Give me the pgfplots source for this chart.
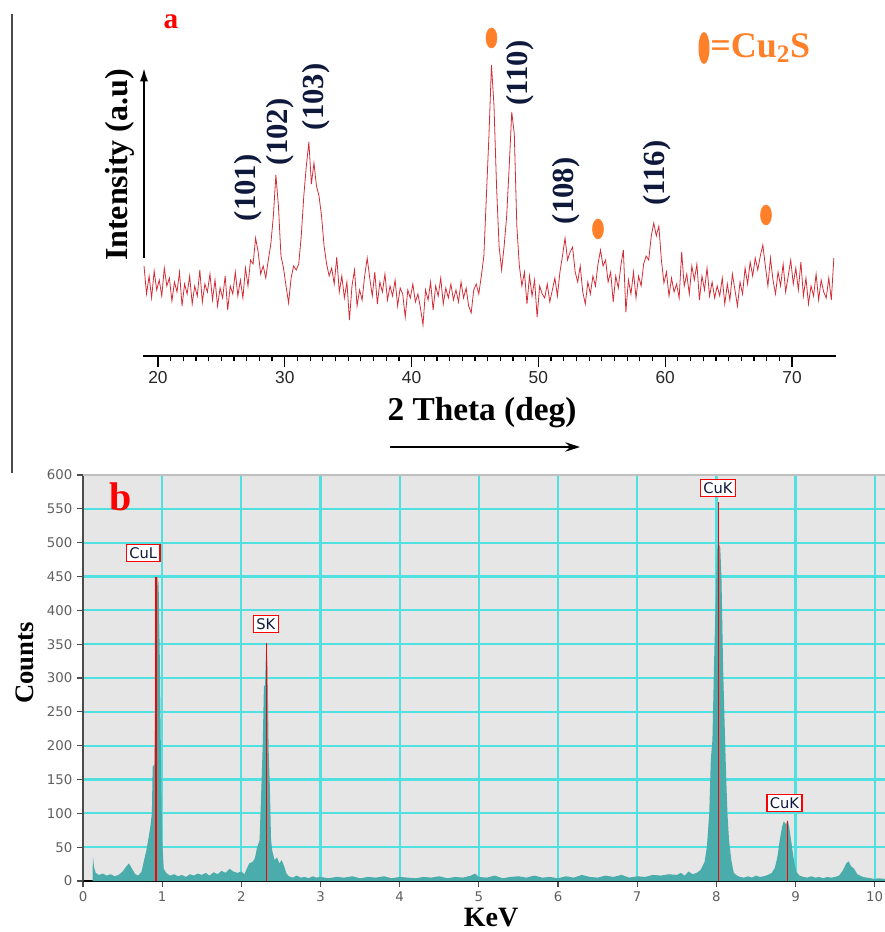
\documentclass[border=0pt]{standalone}
\usepackage{fontspec}
\setmainfont{Liberation Serif}
\setsansfont{Liberation Sans}
\newfontfamily\dejavu{DejaVu Sans}
\usepackage{pgfplots}
\pgfplotsset{compat=1.18}
\usetikzlibrary{arrows.meta}
\definecolor{xrdred}{RGB}{210,45,55}
\definecolor{cuorange}{RGB}{255,128,40}
\definecolor{gridcyan}{RGB}{80,224,224}
\definecolor{bggray}{RGB}{230,230,230}
\definecolor{tealfill}{RGB}{75,172,172}
\definecolor{labblue}{RGB}{15,25,60}
\definecolor{tickgray}{RGB}{95,95,95}
\begin{document}
\begin{tikzpicture}[x=0.75pt,y=0.75pt]
\useasboundingbox (0,0) rectangle (885,932);
\coordinate (PA) at (143,576);
\coordinate (PB) at (83,51);
\draw[gray!60!black, line width=0.9pt] (12,918) -- (12,459);
% ---------------- panel a ----------------
\begin{axis}[
  at={(PA)}, anchor=south west,
  scale only axis, width=519.75pt, height=255pt,
  xmin=18.82, xmax=73.47, ymin=0, ymax=340,
  axis x line*=bottom, axis y line=none,
  clip=false,
  xtick={20,30,...,70}, minor x tick num=9,
  tick align=outside,
  major tick length=8pt, minor tick length=4pt,
  x axis line style={black, line width=1pt},
  every tick/.style={black, line width=0.9pt},
  /pgf/number format/assume math mode=true,
  xticklabel style={font=\sffamily\fontsize{13}{13}\selectfont, text=black!85},
]
\addplot[xrdred, line width=0.6pt] coordinates {
(18.9,90)(19.1,62)(19.3,80)(19.5,58)(19.7,85)(19.9,66)(20.1,76)(20.3,60)(20.5,88)(20.7,70)
(20.9,78)(21.1,55)(21.3,74)(21.5,64)(21.7,84)(21.9,50)(22.1,72)(22.3,62)(22.5,80)(22.7,52)
(22.9,70)(23.1,60)(23.3,86)(23.5,54)(23.7,72)(23.9,64)(24.1,82)(24.3,56)(24.5,76)(24.7,50)
(24.9,68)(25.1,58)(25.3,80)(25.5,46)(25.7,70)(25.9,62)(26.1,84)(26.3,60)(26.5,76)(26.7,58)
(26.9,88)(27.1,70)(27.3,96)(27.5,92)(27.7,118)(27.9,104)(28.1,82)(28.3,90)(28.5,78)(28.7,96)
(28.9,112)(29.1,140)(29.3,181)(29.5,150)(29.7,100)(29.9,88)(30.1,70)(30.3,53)(30.5,78)(30.7,90)
(30.9,86)(31.1,92)(31.3,120)(31.5,160)(31.7,190)(31.9,214)(32.1,172)(32.3,193)(32.5,170)(32.7,160)
(32.9,140)(33.1,110)(33.3,92)(33.5,80)(33.7,88)(33.9,72)(34.1,99)(34.3,64)(34.5,80)(34.7,58)
(34.9,74)(35.1,36)(35.3,70)(35.5,86)(35.7,50)(35.9,66)(36.1,56)(36.3,80)(36.5,98)(36.7,78)
(36.9,60)(37.1,84)(37.3,52)(37.5,74)(37.7,64)(37.9,82)(38.1,56)(38.3,70)(38.5,60)(38.7,76)
(38.9,50)(39.1,68)(39.3,62)(39.5,39)(39.7,66)(39.9,58)(40.1,72)(40.3,54)(40.5,62)(40.7,48)
(40.9,31)(41.1,66)(41.3,56)(41.5,74)(41.7,46)(41.9,70)(42.1,60)(42.3,78)(42.5,52)(42.7,68)
(42.9,58)(43.1,72)(43.3,56)(43.5,66)(43.7,54)(43.9,74)(44.1,58)(44.3,68)(44.5,50)(44.7,43)
(44.9,66)(45.1,72)(45.3,62)(45.5,80)(45.7,100)(45.9,160)(46.1,220)(46.3,291)(46.5,250)(46.7,170)
(46.9,110)(47.1,86)(47.3,110)(47.5,140)(47.7,190)(47.9,244)(48.1,222)(48.3,130)(48.5,90)(48.7,70)
(48.9,84)(49.1,52)(49.3,80)(49.5,60)(49.7,76)(49.9,39)(50.1,70)(50.3,62)(50.5,58)(50.7,72)
(50.9,54)(51.1,66)(51.3,78)(51.5,60)(51.7,84)(51.9,100)(52.1,118)(52.3,96)(52.5,104)(52.7,109)
(52.9,84)(53.1,74)(53.3,90)(53.5,64)(53.7,52)(53.9,74)(54.1,62)(54.3,80)(54.5,70)(54.7,92)
(54.9,106)(55.1,90)(55.3,96)(55.5,74)(55.7,84)(55.9,54)(56.1,80)(56.3,68)(56.5,90)(56.7,106)
(56.9,44)(57.1,76)(57.3,62)(57.5,84)(57.7,58)(57.9,80)(58.1,70)(58.3,92)(58.5,100)(58.7,96)
(58.9,120)(59.1,133)(59.3,120)(59.5,130)(59.7,96)(59.9,73)(60.1,84)(60.3,60)(60.5,78)(60.7,64)
(60.9,72)(61.1,58)(61.3,104)(61.5,70)(61.7,82)(61.9,62)(62.1,90)(62.3,76)(62.5,92)(62.7,56)
(62.9,80)(63.1,66)(63.3,88)(63.5,60)(63.7,74)(63.9,58)(64.1,70)(64.3,60)(64.5,78)(64.7,52)
(64.9,72)(65.1,56)(65.3,82)(65.5,66)(65.7,50)(65.9,74)(66.1,62)(66.3,88)(66.5,72)(66.7,94)
(66.9,80)(67.1,98)(67.3,86)(67.5,100)(67.7,111)(67.9,90)(68.1,70)(68.3,98)(68.5,76)(68.7,62)
(68.9,84)(69.1,70)(69.3,92)(69.5,64)(69.7,80)(69.9,96)(70.1,72)(70.3,88)(70.5,66)(70.7,94)
(70.9,60)(71.1,78)(71.3,52)(71.5,70)(71.7,60)(71.9,82)(72.1,56)(72.3,76)(72.5,64)(72.7,58)
(72.9,78)(73.1,56)(73.3,98)
};
\addplot[only marks, mark=*, color=cuorange, mark size=7.5pt, mark options={xscale=0.55}]
  coordinates {(46.3,318) (54.7,127) (67.95,141)};
\begin{scope}[every node/.style={rotate=90, font=\bfseries\fontsize{23}{23}\selectfont, text=labblue, inner sep=0pt}]
\node at (axis cs:27.1,168) {(101)};
\node at (axis cs:29.6,224) {(102)};
\node at (axis cs:32.5,259) {(103)};
\node at (axis cs:48.55,283) {(110)};
\node at (axis cs:52.2,165) {(108)};
\node at (axis cs:59.35,183) {(116)};
\end{scope}
\end{axis}
\draw[line width=1.5pt, -{Latex[length=10pt,width=6pt]}] (144,674) -- (144,864);
\node[rotate=90, font=\bfseries\fontsize{24}{24}\selectfont] at (120,767) {Intensity (a.u)};
\node[font=\bfseries\fontsize{25}{25}\selectfont] at (482,519) {2 Theta (deg)};
\draw[line width=1.2pt, -{Stealth[length=11pt,width=7pt]}] (390,485) -- (580,485);
\node[font=\bfseries\fontsize{22}{22}\selectfont, text=red] at (171,910) {a};
\draw[fill=cuorange, draw=none] (704,884) ellipse (5.5 and 16);
\node[anchor=west, font=\bfseries\fontsize{27}{27}\selectfont, text=cuorange, inner sep=0pt] at (710,884) {=Cu\textsubscript{2}S};
% ---------------- panel b ----------------
\begin{axis}[
  at={(PB)}, anchor=south west,
  scale only axis, width=601.5pt, height=304.5pt,
  xmin=0, xmax=10.13, ymin=0, ymax=600,
  axis lines*=left,
  axis background/.style={fill=bggray},
  grid=major, grid style={gridcyan, line width=1.7pt},
  xtick={0,...,10}, ytick={0,50,...,600},
  tick align=outside, major tick length=4.5pt,
  x axis line style={black, line width=1.6pt},
  y axis line style={gray!60!black, line width=0.9pt},
  every tick/.style={black!70, line width=0.8pt},
  /pgf/number format/assume math mode=true,
  ticklabel style={font=\dejavu\fontsize{10}{10}\selectfont, text=tickgray},
  clip=false,
]
\addplot[fill=tealfill, draw=none] coordinates {
(0.12,0)(0.125,36)(0.14,20)(0.16,12)(0.2,9)(0.25,11)(0.3,8)(0.35,10)(0.4,7)(0.45,9)
(0.5,14)(0.55,22)(0.58,26)(0.62,18)(0.66,10)(0.7,8)(0.74,14)(0.77,30)(0.8,45)(0.83,65)
(0.85,80)(0.87,100)(0.88,169)(0.9,172)(0.92,330)(0.94,450)(0.955,440)(0.97,330)(0.985,179)(1.0,60)
(1.02,18)(1.05,12)(1.1,8)(1.15,10)(1.2,7)(1.25,9)(1.3,6)(1.35,10)(1.4,8)(1.45,11)
(1.5,9)(1.55,12)(1.6,8)(1.65,13)(1.7,10)(1.75,15)(1.8,12)(1.85,18)(1.9,14)(1.95,12)
(2.0,14)(2.04,10)(2.06,16)(2.1,26)(2.14,28)(2.17,33)(2.2,50)(2.23,60)(2.25,127)(2.27,200)
(2.285,287)(2.3,290)(2.315,352)(2.33,320)(2.345,193)(2.36,140)(2.375,61)(2.39,45)(2.42,31)(2.45,35)
(2.48,26)(2.51,31)(2.54,22)(2.57,11)(2.6,7)(2.65,5)(2.7,8)(2.75,5)(2.8,6)(2.85,4)
(2.9,7)(2.95,5)(3.0,6)(3.1,4)(3.2,6)(3.3,5)(3.4,7)(3.5,4)(3.6,6)(3.7,5)
(3.8,7)(3.9,4)(4.0,6)(4.1,5)(4.2,4)(4.3,6)(4.4,5)(4.5,7)(4.6,4)(4.7,6)
(4.8,5)(4.9,8)(4.95,11)(5.0,6)(5.1,5)(5.2,8)(5.3,4)(5.4,6)(5.5,7)(5.6,5)
(5.7,8)(5.8,5)(5.9,6)(6.0,4)(6.1,7)(6.2,5)(6.3,9)(6.4,6)(6.5,5)(6.6,8)
(6.7,6)(6.8,9)(6.9,5)(7.0,7)(7.1,6)(7.2,9)(7.3,8)(7.4,10)(7.5,9)(7.55,12)
(7.6,8)(7.65,14)(7.7,10)(7.75,12)(7.8,16)(7.85,28)(7.88,50)(7.91,100)(7.93,180)(7.95,208)
(7.97,317)(7.99,413)(8.01,490)(8.03,500)(8.05,492)(8.065,445)(8.085,316)(8.105,230)(8.125,150)(8.14,100)
(8.16,60)(8.19,30)(8.22,12)(8.26,8)(8.3,6)(8.35,5)(8.4,7)(8.45,5)(8.5,8)(8.55,6)
(8.6,7)(8.65,9)(8.7,12)(8.74,20)(8.77,35)(8.8,60)(8.83,80)(8.85,88)(8.88,84)(8.9,90)
(8.92,80)(8.95,55)(8.98,30)(9.01,14)(9.05,8)(9.1,6)(9.15,5)(9.2,7)(9.25,5)(9.3,6)
(9.35,4)(9.4,6)(9.45,5)(9.5,6)(9.55,8)(9.6,16)(9.64,26)(9.67,29)(9.7,22)(9.74,18)
(9.78,10)(9.85,6)(9.9,5)(9.95,4)(10.0,3)(10.05,4)(10.13,3)
} \closedcycle;
\addplot[ycomb, red, line width=1.1pt, mark=none] coordinates {(0.92,450) (2.32,352) (8.03,560) (8.9,88)};
\draw[gray!50, line width=0.8pt] (rel axis cs:0,1) -- (rel axis cs:1,1);
\begin{scope}[every node/.style={draw=red, line width=1pt, fill=white, inner sep=2.2pt, font=\dejavu\fontsize{11}{11}\selectfont, text=labblue}]
\node at (axis cs:0.76,485) {CuL};
\node at (axis cs:2.31,380) {SK};
\node at (axis cs:8.02,581) {CuK};
\node at (axis cs:8.86,115) {CuK};
\end{scope}
\end{axis}
\node[font=\bfseries\fontsize{30}{30}\selectfont, text=red] at (121,435) {b};
\node[rotate=90, font=\bfseries\fontsize{20}{20}\selectfont] at (25,269) {Counts};
\node[anchor=base, font=\bfseries\fontsize{21}{21}\selectfont] at (491,6) {KeV};
\end{tikzpicture}
\end{document}
